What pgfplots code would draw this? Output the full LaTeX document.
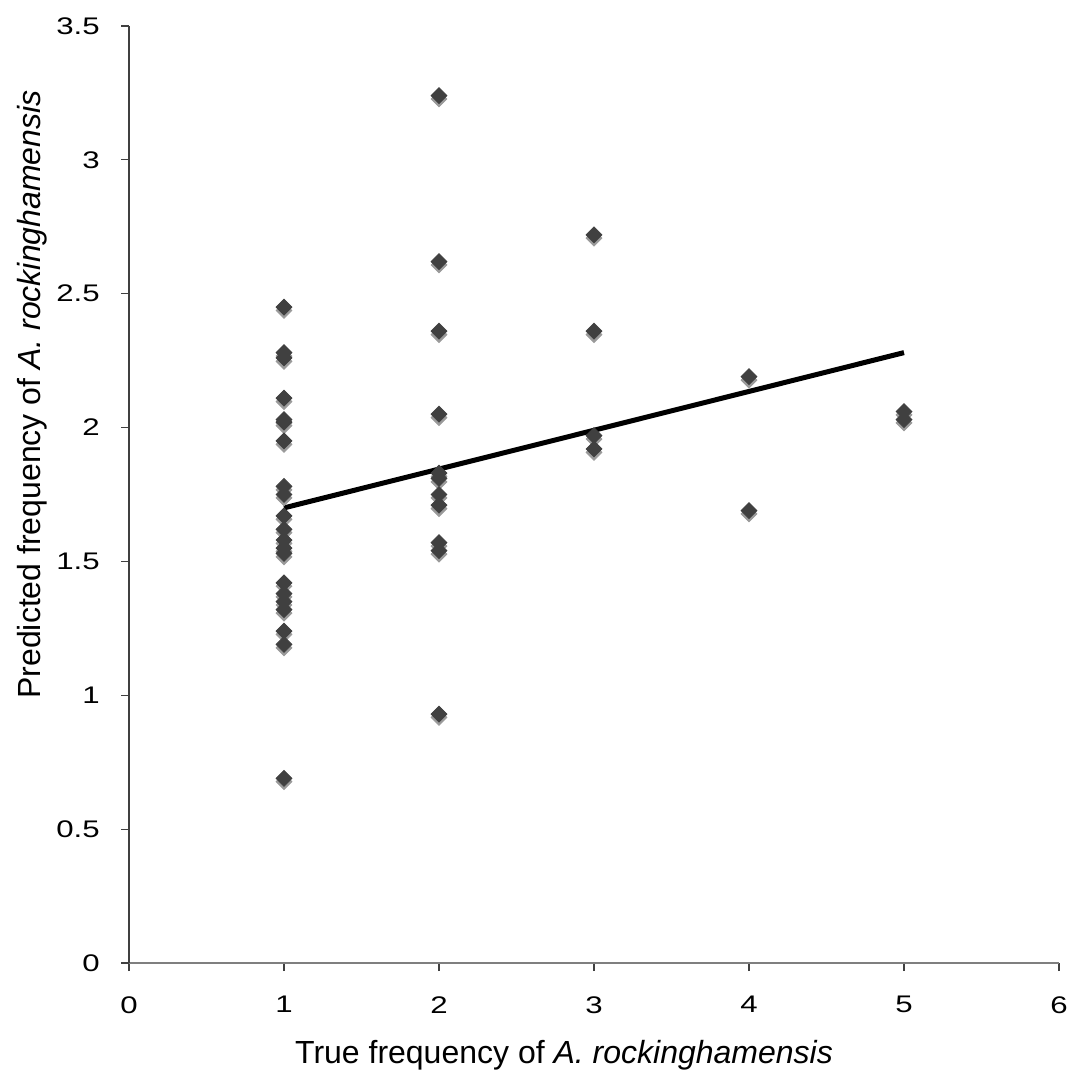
\documentclass[border=0pt]{standalone}
\usepackage{pgfplots}
\pgfplotsset{compat=1.18}
\usepackage{fontspec}
\setmainfont{Liberation Sans}

\definecolor{markdark}{HTML}{404040}
\definecolor{markshade}{HTML}{9A9A9A}
\definecolor{axisgray}{HTML}{7F7F7F}

% true vs. predicted frequency, one row per sample
\pgfplotstableread{
x y
1 2.45
1 2.28
1 2.26
1 2.11
1 2.03
1 2.02
1 1.95
1 1.78
1 1.75
1 1.67
1 1.62
1 1.58
1 1.55
1 1.53
1 1.42
1 1.38
1 1.35
1 1.32
1 1.24
1 1.19
1 0.69
2 3.24
2 2.62
2 2.36
2 2.05
2 1.83
2 1.81
2 1.75
2 1.71
2 1.57
2 1.54
2 0.93
3 2.72
3 2.36
3 1.97
3 1.92
4 2.19
4 1.69
5 2.06
5 2.03
}\freqdata

% fitted linear trend
\pgfplotstableread{
x y
1 1.70
5 2.28
}\trenddata

\begin{document}
\begin{tikzpicture}
\begin{axis}[
  name=ax,
  scale only axis,
  width=465pt, height=468.5pt,
  xmin=0, xmax=6, ymin=0, ymax=3.5,
  xtick={0,1,...,6},
  ytick={0,0.5,...,3.5},
  axis x line*=bottom,
  axis y line*=left,
  x axis line style={-, draw=axisgray, line width=1pt},
  y axis line style={-, draw=markdark, line width=0.6pt},
  tick align=outside,
  major tick length=4pt,
  tick style={draw=markdark, line width=0.6pt},
  /pgf/number format/assume math mode=true,
  tick label style={font=\fontsize{12}{12}\selectfont, inner sep=0pt, xscale=1.3},
  xticklabel style={anchor=north, yshift=-12.5pt},
  yticklabel style={anchor=east, xshift=-8pt},
  clip=false,
]
% grey drop shadow under every marker
\addplot[only marks, mark=square*, mark size=2.8pt,
  mark options={draw=markshade, fill=markshade, yshift=-1.7pt, rotate=45}]
  table[x=x, y=y] {\freqdata};
% markers
\addplot[only marks, mark=square*, mark size=2.8pt,
  mark options={draw=markdark, fill=markdark, rotate=45}]
  table[x=x, y=y] {\freqdata};
% trend line
\addplot[black, line width=2.5pt, line cap=butt] table[x=x, y=y] {\trenddata};
\end{axis}
% axis titles
\node[anchor=base, font=\fontsize{16}{16}\selectfont]
  at ([xshift=-15pt, yshift=-50pt]ax.south) {True frequency of \textit{A. rockinghamensis}};
\node[anchor=base, rotate=90, font=\fontsize{16}{16}\selectfont]
  at ([xshift=-44.5pt, yshift=50pt]ax.west) {Predicted frequency of \textit{A. rockinghamensis}};
\pgfresetboundingbox
\path ([xshift=-64.5pt, yshift=-54pt]ax.south west) rectangle ([xshift=6.5pt, yshift=13pt]ax.north east);
\end{tikzpicture}
\end{document}
